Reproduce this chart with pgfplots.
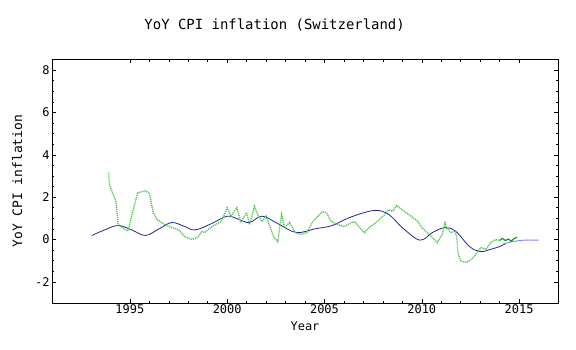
\documentclass[border=0pt]{standalone}
\usepackage{pgfplots}
\pgfplotsset{compat=1.18}
\usepackage{fontspec}
\setmainfont{DejaVu Sans Mono}
\definecolor{cgreen}{RGB}{80,195,80}
\definecolor{dgreen}{RGB}{20,150,20}
\definecolor{cblue}{RGB}{35,35,150}
\definecolor{lblue}{RGB}{130,130,250}
\begin{document}
\begin{tikzpicture}
\begin{axis}[
  scale only axis, width=506bp, height=243.5bp,
  xmin=1991, xmax=2017, ymin=-3, ymax=8.5,
  xtick={1995,2000,...,2015}, ytick={-2,0,...,8},
  minor x tick num=4, minor y tick num=3,
  tick align=inside, major tick length=4bp, minor tick length=2.5bp,
  /pgf/number format/assume math mode=true,
  /pgf/number format/1000 sep={},
  tick label style={font=\fontsize{12}{12}\selectfont},
  xticklabel style={yshift=2bp},
  yticklabel style={xshift=1bp},
  axis line style={black, line width=0.6pt},
  every tick/.style={black, line width=0.5pt},
  xlabel={Year}, ylabel={YoY CPI inflation},
  xlabel style={font=\fontsize{12}{12}\selectfont, yshift=-1bp},
  ylabel style={font=\fontsize{13}{13}\selectfont, yshift=6bp},
  title={YoY CPI inflation (Switzerland)},
  title style={font=\fontsize{14}{14}\selectfont, at={(rel axis cs:0.44,1)}, anchor=base, yshift=24bp},
  clip=false,
]
\coordinate (bl) at (rel axis cs:0,0);
\addplot[cblue, line width=0.8pt, smooth, tension=0.6] coordinates {
(1993.05,0.19) (1993.7,0.45) (1994.4,0.66) (1995.1,0.45) (1995.8,0.19)
(1996.5,0.5) (1997.15,0.8) (1997.8,0.62) (1998.35,0.45) (1999.2,0.75)
(2000.0,1.1) (2000.6,0.95) (2001.15,0.8) (2001.8,1.1) (2002.6,0.75)
(2003.55,0.33) (2004.5,0.5) (2005.4,0.66) (2006.3,1.04) (2007.55,1.37)
(2008.3,1.18) (2009.0,0.56) (2009.9,-0.03) (2010.55,0.33) (2011.2,0.56)
(2011.75,0.38) (2012.45,-0.33) (2013.0,-0.57) (2013.6,-0.45) (2014.0,-0.33)
(2014.3,-0.2)
};
\addplot[lblue, line width=0.9pt, smooth] coordinates {
(2014.2,-0.2) (2014.8,-0.08) (2015.3,-0.03) (2016.0,-0.03)
};
\addplot[cgreen, line width=1.4pt, dash pattern=on 1.1pt off 0.9pt] coordinates {
(1993.9,3.17) (1993.95,2.6) (1994.3,1.75) (1994.4,0.7) (1994.75,0.47)
(1994.9,0.4) (1995.2,1.5) (1995.4,2.2) (1995.8,2.3) (1996.0,2.2)
(1996.2,1.27) (1996.4,0.94) (1996.8,0.7) (1997.15,0.56) (1997.5,0.47)
(1997.8,0.14) (1998.2,0.0) (1998.5,0.1) (1998.7,0.38) (1998.85,0.33)
(1999.2,0.6) (1999.7,0.85) (2000.0,1.5) (2000.2,1.1) (2000.5,1.5)
(2000.7,0.8) (2001.0,1.27) (2001.15,0.7) (2001.4,1.56) (2001.6,1.1)
(2001.8,0.85) (2002.0,1.1) (2002.2,0.6) (2002.4,0.1) (2002.6,-0.1)
(2002.7,0.6) (2002.8,1.18) (2002.95,0.56) (2003.2,0.8) (2003.5,0.33)
(2003.8,0.24) (2004.1,0.33) (2004.4,0.85) (2004.6,1.04) (2004.9,1.32)
(2005.1,1.27) (2005.35,0.85) (2005.7,0.7) (2006.0,0.6) (2006.4,0.8)
(2006.55,0.85) (2006.8,0.56) (2007.05,0.33) (2007.3,0.56) (2007.65,0.8)
(2008.1,1.18) (2008.3,1.4) (2008.5,1.32) (2008.7,1.6) (2009.0,1.4)
(2009.45,1.1) (2009.8,0.85) (2010.0,0.56) (2010.5,0.14) (2010.8,-0.14)
(2011.05,0.24) (2011.2,0.85) (2011.25,0.56) (2011.5,0.33) (2011.7,0.38)
(2011.8,0.1) (2011.85,-0.6) (2012.0,-1.03) (2012.3,-1.08) (2012.55,-0.94)
(2012.7,-0.8) (2012.85,-0.6) (2013.05,-0.38) (2013.3,-0.47) (2013.55,-0.14)
(2013.8,0.0) (2014.0,-0.05)
};
\addplot[dgreen, line width=1.2pt] coordinates {
(2014.0,-0.05) (2014.15,0.05) (2014.3,-0.05) (2014.45,0.02) (2014.6,-0.08)
(2014.75,0.05) (2014.9,0.1)
};
\end{axis}
\pgfresetboundingbox
\path[use as bounding box] (bl) ++(-52bp,-47bp) rectangle ++(576bp,350bp);
\end{tikzpicture}
\end{document}
